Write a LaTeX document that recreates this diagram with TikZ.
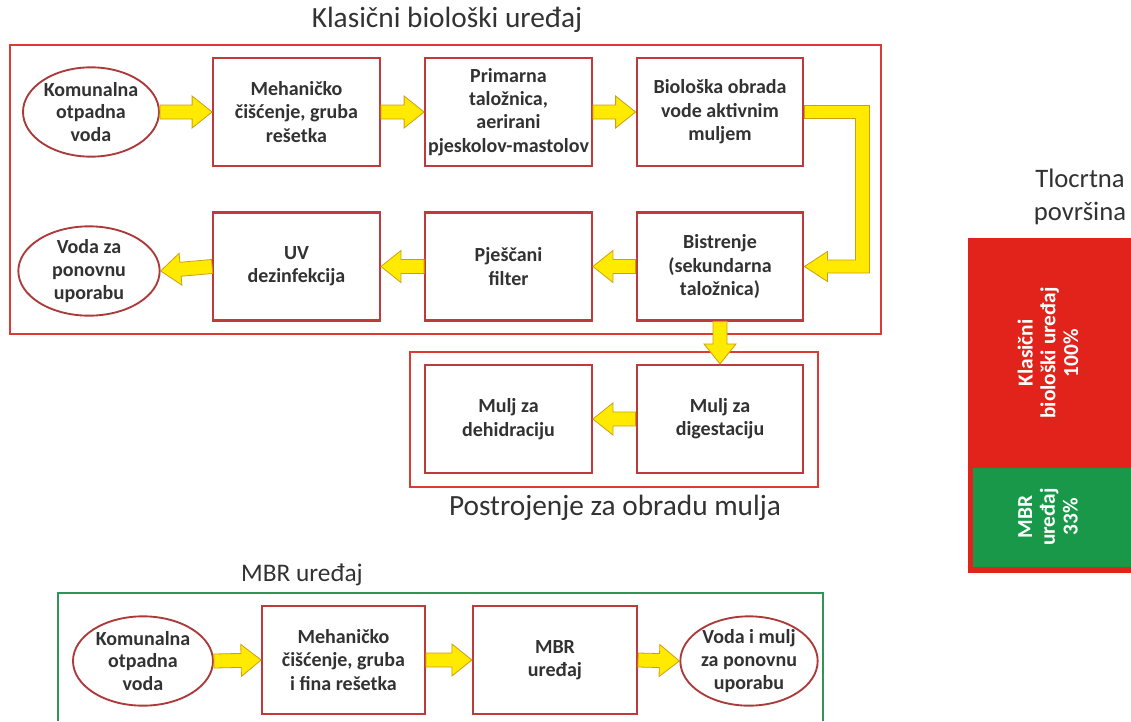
\documentclass[tikz,border=0pt]{standalone}
\usepackage{fontspec}
\setmainfont{Carlito}
\usetikzlibrary{calc,shapes.geometric}

\definecolor{boxred}{RGB}{192,57,59}
\definecolor{framered}{RGB}{222,58,52}
\definecolor{ellred}{RGB}{172,58,58}
\definecolor{arrowfill}{RGB}{255,234,0}
\definecolor{arrowedge}{RGB}{205,158,20}
\definecolor{barred}{RGB}{226,35,28}
\definecolor{bargreen}{RGB}{24,152,72}
\definecolor{framegreen}{RGB}{48,148,88}
\definecolor{txtgray}{RGB}{50,50,50}

\tikzset{
  redframe/.style={draw=framered, line width=1.5pt},
  greenframe/.style={draw=framegreen, line width=1.5pt},
  title/.style={text=txtgray, inner sep=0pt, font=\fontsize{22}{26}\selectfont},
  stepbox/.style={draw=boxred, line width=1.6pt, fill=white, minimum width=125pt,
    minimum height=81pt, inner sep=1pt, align=center, text=txtgray,
    font=\fontsize{15}{17.5}\selectfont\bfseries},
  endpoint/.style={ellipse, draw=ellred, line width=1.4pt, fill=white, inner sep=0pt,
    minimum width=102pt, minimum height=67pt, align=center, text=txtgray,
    font=\fontsize{15}{17}\selectfont\bfseries},
  bartext/.style={text=white, align=center, inner sep=0pt,
    font=\fontsize{16}{17}\selectfont\bfseries},
  fat/.style={draw=arrowedge, fill=arrowfill, line width=0.6pt,
    to path={($(\tikztostart)!5.25pt!90:(\tikztotarget)$)
      -- ($(\tikztotarget)!15.89pt!-19.29:(\tikztostart)$)
      -- ($(\tikztotarget)!19.21pt!-38.66:(\tikztostart)$)
      -- (\tikztotarget)
      -- ($(\tikztotarget)!19.21pt!38.66:(\tikztostart)$)
      -- ($(\tikztotarget)!15.89pt!19.29:(\tikztostart)$)
      -- ($(\tikztostart)!5.25pt!-90:(\tikztotarget)$) -- cycle}},
  bentarrow/.style={draw=arrowedge, fill=arrowfill, line width=0.6pt},
}

\begin{document}
\begin{tikzpicture}[x=0.75pt,y=0.75pt,yscale=-1,xscale=1]
\useasboundingbox (0,0) rectangle (1131,721);

% frames
\draw[redframe] (10,45) rectangle (881,334);
\draw[redframe] (410,352) rectangle (818,487);
\draw[greenframe] (58,721) |- (823,593) -- (823,721);

% titles
\node[title] (tklas) at (447,20) {Klasični biološki uređaj};
\node[title] (tpost) at (615,508) {Postrojenje za obradu mulja};
\node[title, font=\fontsize{19}{23}\selectfont] (tmbr) at (302,575) {MBR uređaj};
\node[title, align=center, font=\fontsize{20}{25}\selectfont] (tplan) at (1080,197) {Tlocrtna\\površina};

% classic plant, upper row
\node[endpoint] (e1) at (91,112) {Komunalna\\otpadna\\voda};
\node[stepbox] (m1) at (296.5,112) {Mehaničko\\čišćenje, gruba\\rešetka};
\node[stepbox] (p1) at (508.5,112) {Primarna\\taložnica,\\aerirani\\pjeskolov-mastolov};
\node[stepbox] (b1) at (720,112) {Biološka obrada\\vode aktivnim\\muljem};

% classic plant, lower row
\node[stepbox] (bi) at (720,266.5) {Bistrenje\\(sekundarna\\taložnica)};
\node[stepbox] (pf) at (508.5,266.5) {Pješčani\\filter};
\node[stepbox] (uv) at (296.5,266.5) {UV\\dezinfekcija};
\node[endpoint, minimum width=106pt] (e2) at (89,271) {Voda za\\ponovnu\\uporabu};

% sludge line
\node[stepbox] (mg) at (720,419) {Mulj za\\digestaciju};
\node[stepbox] (md) at (508.5,419) {Mulj za\\dehidraciju};

% MBR plant
\node[endpoint, minimum width=105pt] (e3) at (143,661) {Komunalna\\otpadna\\voda};
\node[stepbox, minimum width=122pt] (m3) at (343.5,660) {Mehaničko\\čišćenje, gruba\\i fina rešetka};
\node[stepbox, minimum width=123pt] (mbr) at (555,660) {MBR\\uređaj};
\node[endpoint, minimum width=103pt] (e4) at (749,661) {Voda i mulj\\za ponovnu\\uporabu};

% arrows
\draw[fat] (e1.east) to (m1.west);
\draw[fat] (m1.east) to (p1.west);
\draw[fat] (p1.east) to (b1.west);
\draw[bentarrow] ($(b1.east)+(0,-6.5)$) -- ($(b1.east)+(65,-6.5)$) -- ($(bi.east)+(65,6.5)$)
  -- ($(bi.east)+(23,6.5)$) -- ($(bi.east)+(23,15)$) -- (bi.east) -- ($(bi.east)+(23,-15)$)
  -- ($(bi.east)+(23,-6.5)$) -- ($(bi.east)+(51,-6.5)$) -- ($(b1.east)+(51,6.5)$)
  -- ($(b1.east)+(0,6.5)$) -- cycle;
\draw[fat] (bi.west) to (pf.east);
\draw[fat] (pf.west) to (uv.east);
\draw[fat] (uv.west) to (e2.east);
\draw[fat] (bi.south) to (mg.north);
\draw[fat] (mg.west) to (md.east);
\draw[fat] (e3.east) to (m3.west);
\draw[fat] (m3.east) to (mbr.west);
\draw[fat] (mbr.east) to (e4.west);

% floor area bar
\fill[barred] (968,238) rectangle (1131,573);
\fill[bargreen] (973,468) rectangle (1131,567);
\node[bartext, rotate=90] (pklas) at (1048,353) {Klasični\\biološki uređaj\\100\%};
\node[bartext, rotate=90] (pmbr) at (1048,517) {MBR\\uređaj\\33\%};

\end{tikzpicture}
\end{document}
